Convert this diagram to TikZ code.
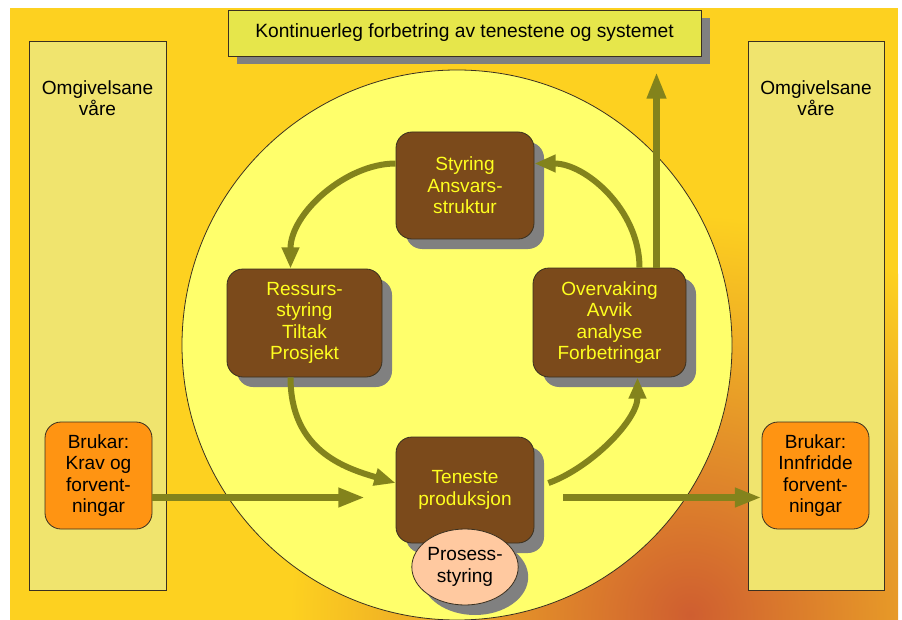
\documentclass[tikz,border=0pt]{standalone}
\usepackage{fontspec}
\setmainfont{Liberation Sans}
\usetikzlibrary{shadows,calc,arrows.meta,shapes.geometric}
\definecolor{bgyel}{HTML}{FDD120}
\definecolor{bgora}{HTML}{CF5E30}
\definecolor{circ}{HTML}{FFFF6B}
\definecolor{pale}{HTML}{F0E46E}
\definecolor{titlef}{HTML}{E6E64B}
\definecolor{brownf}{HTML}{7B4A1B}
\definecolor{boxtxt}{HTML}{FFFF1F}
\definecolor{oranf}{HTML}{FF9412}
\definecolor{peach}{HTML}{FFC9A0}
\definecolor{olive}{HTML}{83831C}
\definecolor{edge}{HTML}{3A3020}
\begin{document}
\begin{tikzpicture}[x=0.75pt,y=-0.75pt,
  every node/.style={font=\fontsize{14.3}{16}\selectfont, align=center, inner sep=0pt},
  shad/.style={drop shadow={shadow xshift=7.5pt,shadow yshift=-7.5pt,opacity=1,fill=black!50}},
  panel/.style={draw=edge, line width=0.6pt, fill=pale},
  proc/.style={draw=edge, line width=0.6pt, fill=brownf, text=boxtxt, rounded corners=12pt, shad},
  user/.style={draw=edge, line width=0.6pt, fill=oranf, text=black, rounded corners=12pt, minimum width=80.25pt, minimum height=80.25pt},
  flow/.style={draw=olive, line width=4.5pt, -{Triangle[length=16pt,width=12.5pt]}},
  bigflow/.style={draw=olive, line width=5pt, -{Triangle[length=20pt,width=13.5pt]}}
]
\path[use as bounding box] (0,0) rectangle (902,620);
% background
\fill[bgyel] (10,8) rectangle (898,620);
\begin{scope}
\clip (10,8) rectangle (898,620);
\shade[inner color=bgora, outer color=bgyel] (690,615) circle (400);
\end{scope}
% big disc
\node (disc) [circle, draw=edge, line width=0.6pt, fill=circ, minimum size=412.5pt] at (457,345) {};
% side panels
\node (envL) [panel, minimum width=102.75pt, minimum height=411.75pt] at (97.5,315.5) {};
\node (envR) [panel, minimum width=102pt, minimum height=411.75pt] at (816,315.5) {};
\node (envLt) at (97.5,98) {Omgivelsane\\våre};
\node (envRt) at (816,98) {Omgivelsane\\våre};
% title
\node (title) [draw=edge, line width=0.6pt, fill=titlef, minimum width=354.75pt, minimum height=34.5pt,
  drop shadow={shadow xshift=6.75pt,shadow yshift=-6pt,opacity=1,fill=black!50},
  font=\fontsize{14.4}{16}\selectfont] at (464.5,33) {Kontinuerleg forbetring av tenestene og systemet};
% users
\node (brukL) [user] at (98.5,475.5) {Brukar:\\Krav og\\forvent-\\ningar};
\node (brukR) [user] at (815.5,475.5) {Brukar:\\Innfridde\\forvent-\\ningar};
% process boxes
\node (styr) [proc, minimum width=103.5pt, minimum height=80.25pt] at (465,185.5) {Styring\\Ansvars-\\struktur};
\node (ress) [proc, minimum width=116.25pt, minimum height=81pt] at (304.5,323) {Ressurs-\\styring\\Tiltak\\Prosjekt};
\node (over) [proc, minimum width=114.75pt, minimum height=81.75pt] at (609.5,322.5) {Overvaking\\Avvik\\analyse\\Forbetringar};
\node (tene) [proc, minimum width=103.5pt, minimum height=79.5pt] at (465,490) {Teneste\\produksjon};
\node (pros) [ellipse, draw=edge, line width=0.6pt, fill=peach, minimum width=79.5pt, minimum height=57pt, shad] at (465,567) {Prosess-\\styring};
% connectors
\draw[flow] ($(styr.west)+(0,-22)$) .. controls ($(styr.west)+(-50,-22)$) and ($(ress.north)+(-14,-55)$) .. ($(ress.north)+(-14,0)$);
\draw[flow] ($(ress.south)+(-14,0)$) .. controls ($(ress.south)+(-14,73)$) and ($(tene.west)+(-51,-22)$) .. ($(tene.west)+(0,-7)$);
\draw[flow] ($(tene.east)+(14,-7)$) .. controls ($(tene.east)+(56,-22)$) and ($(over.south)+(28,43)$) .. ($(over.south)+(28,0)$);
\draw[flow] ($(over.north)+(30,0)$) .. controls ($(over.north)+(30,-58)$) and ($(styr.east)+(51,-22)$) .. ($(styr.east)+(0,-22)$);
\coordinate (uptip) at (656.5,72);
\draw[bigflow] ($(over.north)+(47,0)$) -- (uptip);
\coordinate (intip) at (365,497.5);
\draw[bigflow] ($(brukL.east)+(0,22)$) -- (intip);
\coordinate (outstart) at (563,497.5);
\draw[bigflow] (outstart) -- (brukR.west |- outstart);
\end{tikzpicture}
\end{document}
